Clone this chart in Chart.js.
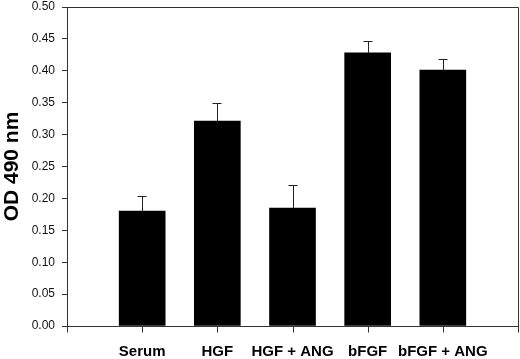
<!DOCTYPE html>
<html>
<head>
<meta charset="utf-8">
<script src="https://cdn.jsdelivr.net/npm/chart.js@4/dist/chart.umd.min.js"></script>
<style>
html,body{margin:0;padding:0;background:#fff;}
#wrap{width:520px;height:359px;}
</style>
</head>
<body>
<div id="wrap"><canvas id="c" width="520" height="359"></canvas></div>
<script>
const categories = ['Serum', 'HGF', 'HGF + ANG', 'bFGF', 'bFGF + ANG'];
const values = [0.180, 0.321, 0.185, 0.428, 0.401];
const errors = [0.024, 0.029, 0.036, 0.019, 0.017];
const yTicks = [0.00, 0.05, 0.10, 0.15, 0.20, 0.25, 0.30, 0.35, 0.40, 0.45, 0.50];

const labels = [''].concat(categories, ['']);
const barData = [null].concat(values, [null]);
const errData = [null].concat(errors, [null]);

const errorBars = {
  id: 'errorBars',
  afterDatasetsDraw(chart) {
    const ctx = chart.ctx;
    const meta = chart.getDatasetMeta(0);
    const y = chart.scales.y;
    ctx.save();
    ctx.strokeStyle = '#222';
    ctx.lineWidth = 1;
    meta.data.forEach((bar, i) => {
      const v = barData[i], e = errData[i];
      if (v == null || e == null) return;
      const x = Math.round(bar.x) + 0.5;
      const yTop = Math.round(y.getPixelForValue(v + e)) + 0.5;
      const yBase = y.getPixelForValue(v);
      ctx.beginPath();
      ctx.moveTo(x, yBase);
      ctx.lineTo(x, yTop);
      ctx.moveTo(x - 5, yTop);
      ctx.lineTo(x + 4, yTop);
      ctx.stroke();
    });
    ctx.restore();
  }
};

const frame = {
  id: 'frame',
  afterDraw(chart) {
    const a = chart.chartArea;
    const ctx = chart.ctx;
    const xs = chart.scales.x;
    ctx.save();
    ctx.strokeStyle = '#333';
    ctx.lineWidth = 1;
    ctx.beginPath();
    ctx.moveTo(Math.round(a.left) + 0.5, Math.round(a.top) + 0.5);
    ctx.lineTo(Math.round(a.right) + 0.5, Math.round(a.top) + 0.5);
    ctx.lineTo(Math.round(a.right) + 0.5, Math.round(a.bottom) + 0.5);
    const b = Math.round(a.bottom) + 0.5;
    for (let i = 0; i < labels.length; i++) {
      const px = Math.round(xs.getPixelForTick(i)) + 0.5;
      ctx.moveTo(px, b);
      ctx.lineTo(px, b + 6);
    }
    ctx.stroke();
    ctx.restore();
  }
};

new Chart(document.getElementById('c'), {
  type: 'bar',
  data: {
    labels: labels,
    datasets: [{
      data: barData,
      backgroundColor: '#000',
      borderWidth: 0,
      barThickness: 46
    }]
  },
  options: {
    responsive: false,
    animation: false,
    devicePixelRatio: 1,
    layout: { padding: 0 },
    plugins: { legend: { display: false }, tooltip: { enabled: false } },
    scales: {
      x: {
        offset: false,
        grid: { display: false, offset: false, drawOnChartArea: false, drawTicks: true, tickLength: 6, color: '#333' },
        border: { display: true, color: '#333', width: 1 },
        ticks: {
          color: '#000',
          padding: 11,
          maxRotation: 0,
          autoSkip: false,
          font: { family: 'Liberation Sans, Arial, sans-serif', size: 15, weight: 'bold' }
        },
        afterFit(s) { s.height = 33; s.paddingRight = 2; }
      },
      y: {
        min: 0,
        max: 0.5,
        afterBuildTicks(s) { s.ticks = yTicks.map(v => ({ value: v })); },
        grid: { display: true, drawOnChartArea: false, drawTicks: true, tickLength: 5, color: '#333' },
        border: { display: true, color: '#333', width: 1 },
        ticks: {
          color: '#111',
          padding: 7,
          font: { family: 'Liberation Sans, Arial, sans-serif', size: 12 },
          callback: v => Number(v).toFixed(2)
        },
        title: {
          display: true,
          text: 'OD 490 nm',
          color: '#000',
          padding: { top: 0, bottom: 0 },
          font: { family: 'Liberation Sans, Arial, sans-serif', size: 21, weight: 'bold' }
        },
        afterFit(s) { s.width = 67; s.paddingTop = 7; }
      }
    }
  },
  plugins: [errorBars, frame]
});
</script>
</body>
</html>
